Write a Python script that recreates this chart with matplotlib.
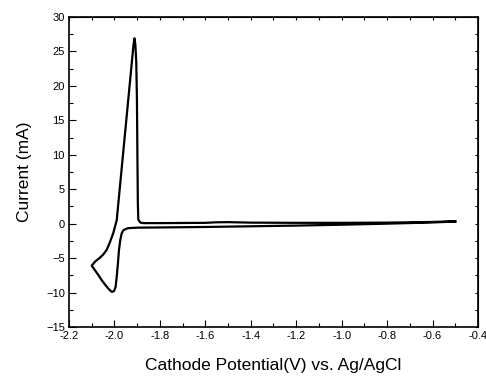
import matplotlib
matplotlib.use('Agg')
import matplotlib.pyplot as plt
from matplotlib.ticker import MultipleLocator, NullFormatter

plt.rcParams['font.family'] = ['Liberation Sans', 'DejaVu Sans']

# cyclic voltammogram (V vs Ag/AgCl, mA)
potential = [-0.50, -0.60, -0.80, -1.00, -1.20, -1.40, -1.50, -1.55, -1.60, -1.80,
             -1.870, -1.886, -1.895, -1.897, -1.899, -1.901, -1.904, -1.908,
             -1.912, -1.916, -1.990, -2.005, -2.020, -2.034, -2.050, -2.066,
             -2.085, -2.100, -2.085, -2.070, -2.056, -2.040, -2.025, -2.012,
             -2.002, -1.995, -1.990, -1.985, -1.980, -1.974, -1.968, -1.962,
             -1.953, -1.940, -1.900, -1.800, -1.600, -1.400, -1.200, -1.000,
             -0.800, -0.600, -0.500]
current = [0.35, 0.25, 0.15, 0.12, 0.12, 0.15, 0.22, 0.20, 0.12, 0.08,
           0.08, 0.15, 0.60, 3.0, 10.0, 18.0, 23.5, 26.0,
           26.9, 26.0, 0.5, -1.35, -2.7, -3.8, -4.5, -5.0,
           -5.5, -6.1, -6.8, -7.5, -8.2, -8.9, -9.5, -9.9,
           -9.8, -9.2, -7.7, -5.9, -3.8, -2.3, -1.4, -1.0,
           -0.82, -0.65, -0.58, -0.55, -0.48, -0.38, -0.28, -0.15,
           0.00, 0.18, 0.30]

xticks = [-2.2, -2.0, -1.8, -1.6, -1.4, -1.2, -1.0, -0.8, -0.6, -0.4]
yticks = [-15, -10, -5, 0, 5, 10, 15, 20, 25, 30]

fig = plt.figure(figsize=(4.86, 3.76), dpi=100)
ax = fig.add_axes([69 / 486, 1 - 327 / 376, 409 / 486, 310 / 376])

ax.plot(potential, current, color='black', linewidth=1.6, solid_joinstyle='round')

ax.set_xlim(-2.2, -0.4)
ax.set_ylim(-15, 30)
ax.set_xticks(xticks)
ax.set_yticks(yticks)
ax.set_xticklabels(['%.1f' % v for v in xticks])
ax.xaxis.set_minor_locator(MultipleLocator(0.1))
ax.yaxis.set_minor_locator(MultipleLocator(2.5))
ax.tick_params(which='major', direction='in', length=5, width=0.8, labelsize=8, pad=3)
ax.tick_params(which='minor', direction='in', length=3, width=0.8)

# small ticks on the top and right edges
top = ax.secondary_xaxis('top')
top.xaxis.set_major_locator(MultipleLocator(0.1))
top.xaxis.set_major_formatter(NullFormatter())
top.tick_params(direction='in', length=2.5, width=0.8)
right = ax.secondary_yaxis('right')
right.yaxis.set_major_locator(MultipleLocator(2.5))
right.yaxis.set_major_formatter(NullFormatter())
right.tick_params(direction='in', length=2.5, width=0.8)

for s in ax.spines.values():
    s.set_linewidth(1.2)

ax.set_xlabel('Cathode Potential(V) vs. Ag/AgCl', fontsize=12.5, labelpad=12)
ax.set_ylabel('Current (mA)', fontsize=12.5, labelpad=10)

fig.savefig('out.png', dpi=100)
